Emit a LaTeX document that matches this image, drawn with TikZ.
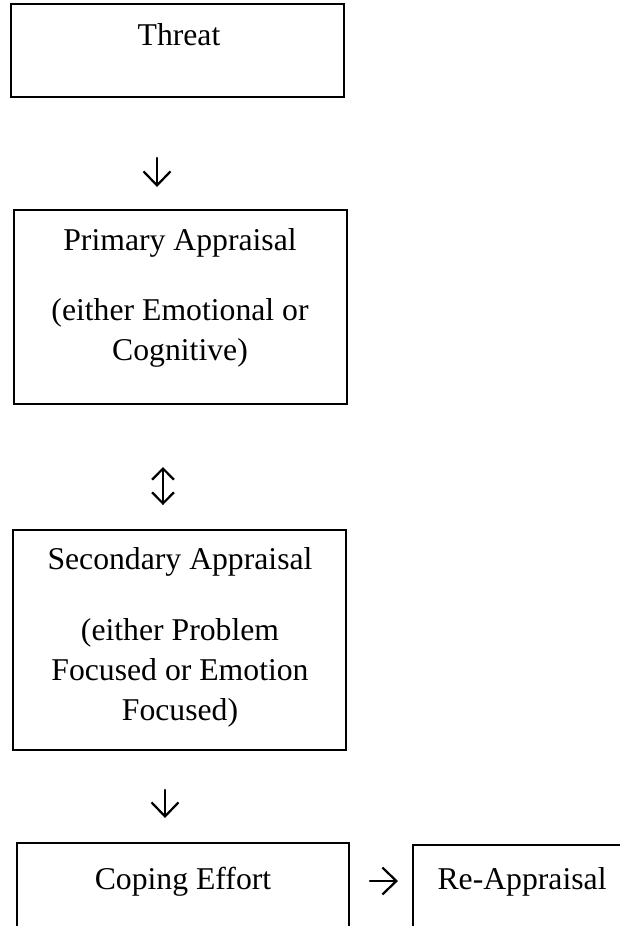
\documentclass[tikz,border=0pt]{standalone}
\usepackage{fontspec}
\setmainfont{Liberation Serif}
\usetikzlibrary{arrows.meta}

\begin{document}
\begin{tikzpicture}[x=0.3785pt, y=-0.3785pt, font=\fontsize{12pt}{14pt}\selectfont]
\tikzset{
    BOX/.style={draw=black, line width=0.7pt, inner sep=0pt, rectangle},
    TXT/.style={anchor=base, inner sep=0pt},
    ARR/.style={line width=0.85pt, line cap=round,
                -{Straight Barb[length=5.3pt, width=10.2pt, line width=0.85pt]}},
    ARRB/.style={line width=0.85pt, line cap=round,
                {Straight Barb[length=4.2pt, width=8.3pt, line width=0.85pt]}-{Straight Barb[length=4.2pt, width=8.3pt, line width=0.85pt]}},
}

% Page frame (bottom boxes run off the page)
\useasboundingbox (0,0) rectangle (620,926);
\clip (0,0) rectangle (620,926);

%── Boxes ──────────────────────────────────────────────────────
\node[BOX, minimum width=126.0pt, minimum height=35.2pt] (threat) at (177.5, 50.5) {};
\node[BOX, minimum width=126.0pt, minimum height=73.4pt] (prim)   at (180.5, 307.0) {};
\node[BOX, minimum width=126.0pt, minimum height=83.3pt] (sec)    at (179.5, 640.0) {};
\node[BOX, minimum width=125.7pt, minimum height=44.3pt] (cope)   at (183.0, 901.5) {};  % cut at bottom
\node[BOX, minimum width=108.6pt, minimum height=43.5pt] (reapp)  at (556.5, 902.5) {};  % cut at right

%── Texts ──────────────────────────────────────────────────────
\node[TXT] (threatT) at (179, 45) {Threat};

\node[TXT] (primT1) at (180, 250) {Primary Appraisal};
\node[TXT] (primT2) at (180, 320) {(either Emotional or};
\node[TXT] (primT3) at (180, 360) {Cognitive)};

\node[TXT] (secT1) at (180, 569) {Secondary Appraisal};
\node[TXT] (secT2) at (180, 640) {(either Problem};
\node[TXT] (secT3) at (180, 680) {Focused or Emotion};
\node[TXT] (secT4) at (180, 720) {Focused)};

\node[TXT] (copeT) at (183, 889) {Coping Effort};
\node[TXT, anchor=base west] (reappT) at (437, 889) {Re-Appraisal};

%── Arrows ─────────────────────────────────────────────────────
\coordinate (d1s) at (157, 158);  \coordinate (d1e) at (157, 187);
\coordinate (u2s) at (163, 467);  \coordinate (u2e) at (163, 505);
\coordinate (d3s) at (165, 790);  \coordinate (d3e) at (165, 818);
\coordinate (r4s) at (370, 881);  \coordinate (r4e) at (398, 881);

\draw[ARR]  (d1s) -- (d1e);
\draw[ARRB] (u2s) -- (u2e);
\draw[ARR]  (d3s) -- (d3e);
\draw[ARR]  (r4s) -- (r4e);

\end{tikzpicture}
\end{document}
